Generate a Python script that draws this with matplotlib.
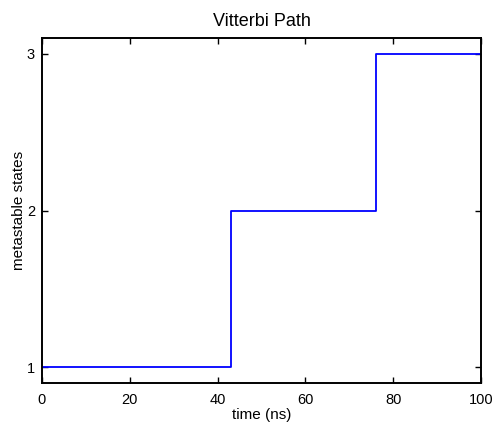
import numpy as np
import matplotlib
matplotlib.use("Agg")
from matplotlib import pyplot as plt

plt.rcParams['font.family'] = ['Liberation Sans', 'DejaVu Sans']

# state sequence of the decoded path
t_change = [0, 43, 76, 100]   # ns, where the state changes
states = [1, 2, 3, 3]
x_ticks = [0, 20, 40, 60, 80, 100]
y_ticks = [1, 2, 3]

fig = plt.figure(figsize=(4.96, 4.24), dpi=100)
ax = fig.add_axes([42 / 496, 41 / 424, 439 / 496, 345 / 424])

ax.step(t_change, states, where="post", color=(0, 0, 1), lw=1.3)

ax.set_xlim(0, 100)
ax.set_ylim(0.9, 3.1)
ax.set_xticks(x_ticks)
ax.set_yticks(y_ticks)

ax.tick_params(direction="in", length=4, width=1, top=True, right=True,
               labelsize=10.5, pad=5)
ax.tick_params(axis="x", pad=7)
for s in ax.spines.values():
    s.set_linewidth(1.4)

ax.set_xlabel("time (ns)", fontsize=11, labelpad=1)
ax.set_ylabel("metastable states", fontsize=11, labelpad=1)
ax.set_title("Vitterbi Path", fontsize=13, pad=9)

fig.savefig("out.png", dpi=100)
